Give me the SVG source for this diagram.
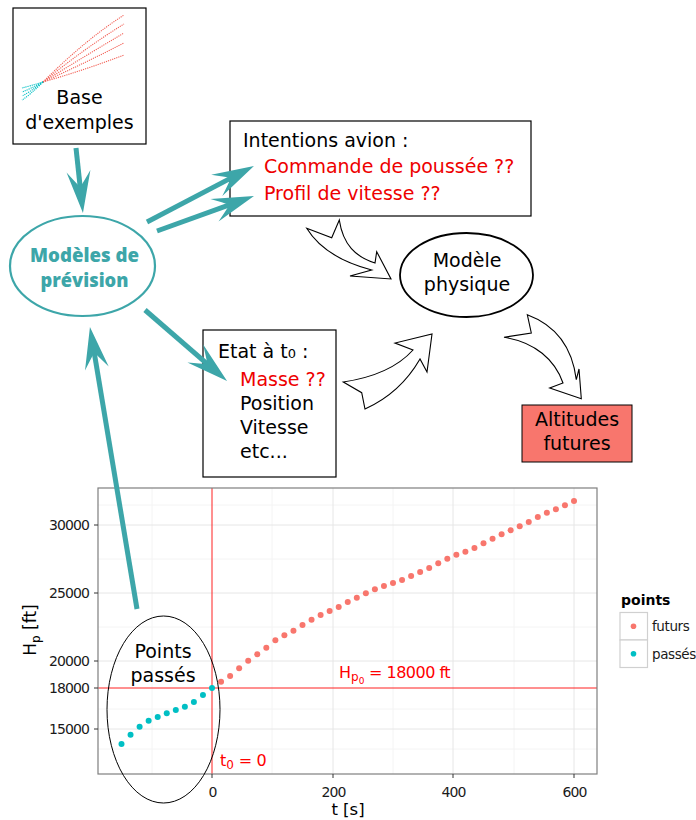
<svg xmlns="http://www.w3.org/2000/svg" width="696" height="820" viewBox="0 0 696 820">
<style>
.box{fill:#fff;stroke:#000;stroke-width:1.2}
.lbl{font-family:"DejaVu Sans","Liberation Sans",sans-serif;font-size:19px;fill:#000}
.red{fill:#EE0000}
.teal-line{stroke:#3DA6A9;stroke-width:5;fill:none;marker-end:url(#teal-head)}
.hollow{fill:#fff;stroke:#000;stroke-width:1.1;stroke-linejoin:miter}
.gmaj{stroke:#E6E6E6;stroke-width:1}
.gmin{stroke:#F4F4F4;stroke-width:1}
.tick{stroke:#333;stroke-width:1}
.ax{font-family:"DejaVu Sans","Liberation Sans",sans-serif;font-size:14px;letter-spacing:-0.9px;fill:#1a1a1a}
.leg{font-family:"DejaVu Sans","Liberation Sans",sans-serif;font-size:13.5px;letter-spacing:-0.4px;fill:#1a1a1a}
.ann{font-family:"DejaVu Sans","Liberation Sans",sans-serif;font-size:16px;fill:#FF0000}
.fut{fill:#F8766D}
.pas{fill:#00BFC4}
.rl{stroke:#FF2020;stroke-width:1}
.dr{fill:none;stroke:#F25F55;stroke-width:1.1;stroke-dasharray:1.2 1}
.dt{fill:none;stroke:#00BFC4;stroke-width:1.1;stroke-dasharray:1.2 0.9}
</style>
<defs>
<marker id="teal-head" markerUnits="userSpaceOnUse" viewBox="-44 -14 46 28" markerWidth="46" markerHeight="28" refX="-24" refY="0" orient="auto">
<path d="M0,0 L-42,-12 Q-31,-4 -26,0 Q-31,4 -42,12 Z" fill="#3DA6A9"/>
</marker>
</defs>
<rect width="696" height="820" fill="#fff"/>

<!-- Chart -->
<g id="chart">
<rect x="98" y="488" width="499" height="286" fill="#fff"/>
<g>
<line class="gmin" x1="98" y1="505" x2="597" y2="505"/>
<line class="gmin" x1="98" y1="559" x2="597" y2="559"/>
<line class="gmin" x1="98" y1="627" x2="597" y2="627"/>
<line class="gmin" x1="98" y1="709" x2="597" y2="709"/>
<line class="gmin" x1="98" y1="749" x2="597" y2="749"/>
<line class="gmin" x1="152" y1="488" x2="152" y2="774"/>
<line class="gmin" x1="272" y1="488" x2="272" y2="774"/>
<line class="gmin" x1="393" y1="488" x2="393" y2="774"/>
<line class="gmin" x1="514" y1="488" x2="514" y2="774"/>
<line class="gmaj" x1="98" y1="525" x2="597" y2="525"/>
<line class="gmaj" x1="98" y1="593" x2="597" y2="593"/>
<line class="gmaj" x1="98" y1="661" x2="597" y2="661"/>
<line class="gmaj" x1="98" y1="729" x2="597" y2="729"/>
<line class="gmaj" x1="333" y1="488" x2="333" y2="774"/>
<line class="gmaj" x1="453" y1="488" x2="453" y2="774"/>
<line class="gmaj" x1="574" y1="488" x2="574" y2="774"/>
</g>
<line class="rl" x1="212" y1="488" x2="212" y2="774"/>
<line class="rl" x1="98" y1="688" x2="597" y2="688"/>
<g class="fut">
<circle cx="221.05" cy="681.7" r="3"/><circle cx="230.1" cy="676" r="3"/><circle cx="239.15" cy="668.3" r="3"/><circle cx="248.2" cy="660.7" r="3"/><circle cx="257.25" cy="654.3" r="3"/>
<circle cx="266.3" cy="647.7" r="3"/><circle cx="275.35" cy="640.3" r="3"/><circle cx="284.4" cy="635.3" r="3"/><circle cx="293.45" cy="630.7" r="3"/><circle cx="302.5" cy="625" r="3"/>
<circle cx="311.55" cy="619.7" r="3"/><circle cx="320.6" cy="615" r="3"/><circle cx="329.65" cy="611" r="3"/><circle cx="338.7" cy="607" r="3"/><circle cx="347.75" cy="602" r="3"/>
<circle cx="356.8" cy="597.7" r="3"/><circle cx="365.85" cy="593.3" r="3"/><circle cx="374.9" cy="589.3" r="3"/><circle cx="383.95" cy="586" r="3"/><circle cx="393" cy="583" r="3"/>
<circle cx="402.05" cy="580" r="3"/><circle cx="411.1" cy="576" r="3"/><circle cx="420.15" cy="572" r="3"/><circle cx="429.2" cy="568" r="3"/><circle cx="438.25" cy="563.3" r="3"/>
<circle cx="447.3" cy="558.7" r="3"/><circle cx="456.35" cy="554.7" r="3"/><circle cx="465.4" cy="551.7" r="3"/><circle cx="474.45" cy="548" r="3"/><circle cx="483.5" cy="543.3" r="3"/>
<circle cx="492.55" cy="538.7" r="3"/><circle cx="501.6" cy="534.3" r="3"/><circle cx="510.65" cy="530.3" r="3"/><circle cx="519.7" cy="526.3" r="3"/><circle cx="528.75" cy="522" r="3"/>
<circle cx="537.8" cy="517" r="3"/><circle cx="546.85" cy="512.7" r="3"/><circle cx="555.9" cy="509.3" r="3"/><circle cx="564.95" cy="505.3" r="3"/><circle cx="574" cy="501" r="3"/>
</g>
<g class="pas">
<circle cx="212" cy="688" r="3"/><circle cx="202.95" cy="695" r="3"/><circle cx="193.9" cy="702" r="3"/><circle cx="184.85" cy="706.7" r="3"/><circle cx="175.8" cy="710" r="3"/>
<circle cx="166.75" cy="713.3" r="3"/><circle cx="157.7" cy="717" r="3"/><circle cx="148.65" cy="720.7" r="3"/><circle cx="139.6" cy="726.7" r="3"/><circle cx="130.55" cy="734.7" r="3"/><circle cx="121.5" cy="744" r="3"/>
</g>
<rect x="98" y="488" width="499" height="286" fill="none" stroke="#7F7F7F" stroke-width="1.2"/>
<g>
<line class="tick" x1="94" y1="525" x2="98" y2="525"/>
<line class="tick" x1="94" y1="593" x2="98" y2="593"/>
<line class="tick" x1="94" y1="661" x2="98" y2="661"/>
<line class="tick" x1="94" y1="688" x2="98" y2="688"/>
<line class="tick" x1="94" y1="729" x2="98" y2="729"/>
<line class="tick" x1="212" y1="774" x2="212" y2="778"/>
<line class="tick" x1="333" y1="774" x2="333" y2="778"/>
<line class="tick" x1="453" y1="774" x2="453" y2="778"/>
<line class="tick" x1="574" y1="774" x2="574" y2="778"/>
</g>
<g class="ax" text-anchor="end">
<text x="89" y="530">30000</text>
<text x="89" y="598">25000</text>
<text x="89" y="666">20000</text>
<text x="89" y="693">18000</text>
<text x="89" y="734">15000</text>
</g>
<g class="ax" text-anchor="middle">
<text x="212.5" y="797">0</text>
<text x="333.5" y="797">200</text>
<text x="453.5" y="797">400</text>
<text x="574.5" y="797">600</text>
</g>
<text x="348" y="815" text-anchor="middle" font-family="DejaVu Sans, sans-serif" font-size="16.5" fill="#000">t [s]</text>
<text transform="translate(36,630) rotate(-90)" text-anchor="middle" font-family="DejaVu Sans, sans-serif" font-size="17" fill="#000">H<tspan font-size="12" dy="4">p</tspan><tspan dy="-4"> [ft]</tspan></text>
<text class="ann" x="339" y="678">H<tspan font-size="12" dy="3">p</tspan><tspan font-size="9" dy="3">0</tspan><tspan dy="-6" letter-spacing="-0.5"> = 18000 ft</tspan></text>
<text class="ann" x="220" y="766">t<tspan font-size="12" dy="3">0</tspan><tspan dy="-3" letter-spacing="-0.3"> = 0</tspan></text>
</g>

<g id="legend">
<text x="621" y="605" font-family="DejaVu Sans, sans-serif" font-size="14" font-weight="bold" fill="#000">points</text>
<rect x="620" y="612.5" width="27.5" height="27.5" fill="#fff" stroke="#D0D0D0" stroke-width="1.2"/>
<rect x="620" y="640" width="27.5" height="27.5" fill="#fff" stroke="#D0D0D0" stroke-width="1.2"/>
<circle class="fut" cx="633.5" cy="626.3" r="2.8"/>
<circle class="pas" cx="633.5" cy="653.8" r="2.8"/>
<text class="leg" x="652" y="631">futurs</text>
<text class="leg" x="652" y="659">passés</text>
</g>

<g id="node-points-passes">
<ellipse cx="163.5" cy="709.5" rx="56.5" ry="93.5" fill="none" stroke="#000" stroke-width="1"/>
<text class="lbl" x="163" y="658" text-anchor="middle">Points</text>
<text class="lbl" x="163" y="682" text-anchor="middle">passés</text>
</g>

<!-- Nodes -->
<g id="node-base">
<rect class="box" x="13" y="8" width="133" height="136"/>
<path class="dr" d="M43,82 Q85,40 124,15"/>
<path class="dr" d="M43,82 Q85,48 124,24"/>
<path class="dr" d="M43,82 Q85,56 124,33"/>
<path class="dr" d="M43,82 Q85,63 124,43"/>
<path class="dr" d="M43,82 Q85,70 124,55"/>
<path class="dt" d="M43,82 Q30,86 22,88"/>
<path class="dt" d="M43,82 Q30,89 22,92"/>
<path class="dt" d="M43,82 Q30,92 22,96"/>
<path class="dt" d="M43,82 Q30,95 22,100"/>
<text class="lbl" x="79.5" y="104" text-anchor="middle">Base</text>
<text class="lbl" x="79.5" y="129" text-anchor="middle">d'exemples</text>
</g>

<g id="node-modeles">
<ellipse cx="82.5" cy="266" rx="72.5" ry="50" fill="#fff" stroke="#3DA6A9" stroke-width="2.2"/>
<text x="84.5" y="262" text-anchor="middle" font-family="Open Sans, Lato, sans-serif" font-weight="800" font-size="20" fill="#3DA6A9" textLength="109" lengthAdjust="spacingAndGlyphs">Modèles de</text>
<text x="84.5" y="287" text-anchor="middle" font-family="Open Sans, Lato, sans-serif" font-weight="800" font-size="20" fill="#3DA6A9" textLength="88" lengthAdjust="spacingAndGlyphs">prévision</text>
</g>

<g id="node-intentions">
<rect class="box" x="230" y="121" width="301" height="95"/>
<text class="lbl" x="243" y="147">Intentions avion :</text>
<text class="lbl red" x="264" y="173">Commande de poussée ??</text>
<text class="lbl red" x="264" y="200">Profil de vitesse ??</text>
</g>

<g id="node-physique">
<ellipse cx="466.5" cy="275" rx="66.5" ry="42" fill="#fff" stroke="#000" stroke-width="1.8"/>
<text class="lbl" x="467" y="267" text-anchor="middle">Modèle</text>
<text class="lbl" x="467" y="291" text-anchor="middle">physique</text>
</g>

<g id="node-etat">
<rect class="box" x="203" y="330" width="133" height="147"/>
<text class="lbl" x="218" y="358">Etat à t<tspan font-size="13">0</tspan> :</text>
<text class="lbl red" x="240" y="386">Masse ??</text>
<text class="lbl" x="240" y="410">Position</text>
<text class="lbl" x="240" y="434">Vitesse</text>
<text class="lbl" x="240" y="458">etc...</text>
</g>

<g id="node-altitudes">
<rect x="522" y="405" width="110" height="57" fill="#F8766D" stroke="#000" stroke-width="1"/>
<text class="lbl" x="577" y="426" text-anchor="middle">Altitudes</text>
<text class="lbl" x="577" y="450" text-anchor="middle">futures</text>
</g>

<!-- Connectors -->
<g id="connectors">
<line class="teal-line" x1="76" y1="148" x2="80.4" y2="189.1"/>
<line class="teal-line" x1="147" y1="222" x2="232.7" y2="177.1"/>
<line class="teal-line" x1="157" y1="231" x2="231.4" y2="204.1"/>
<line class="teal-line" x1="145" y1="310" x2="208.9" y2="365.3"/>
<line class="teal-line" x1="137" y1="609" x2="93.9" y2="350.7"/>
<path class="hollow" d="M306.7,228.3 L331.7,237.7 L339.3,220 C343,245 356,257 375,263 L376.7,251.7 L391,279 L350,276 L371.7,270 C345,263 320,250 306.7,228.3 Z"/>
<path class="hollow" d="M343.3,382 C370,378 395,370 413,350 L395,343 L432,334 L427,372 L420,359 C405,385 385,400 365,409 L361.7,392.7 Z"/>
<path class="hollow" d="M527.3,314.7 C555,325 572,345 576.3,379.7 L579,369 L581.3,398.7 L549.7,388 L563,383 C555,360 535,342 504,337.3 L531.3,333 Z"/>
</g>
</svg>
